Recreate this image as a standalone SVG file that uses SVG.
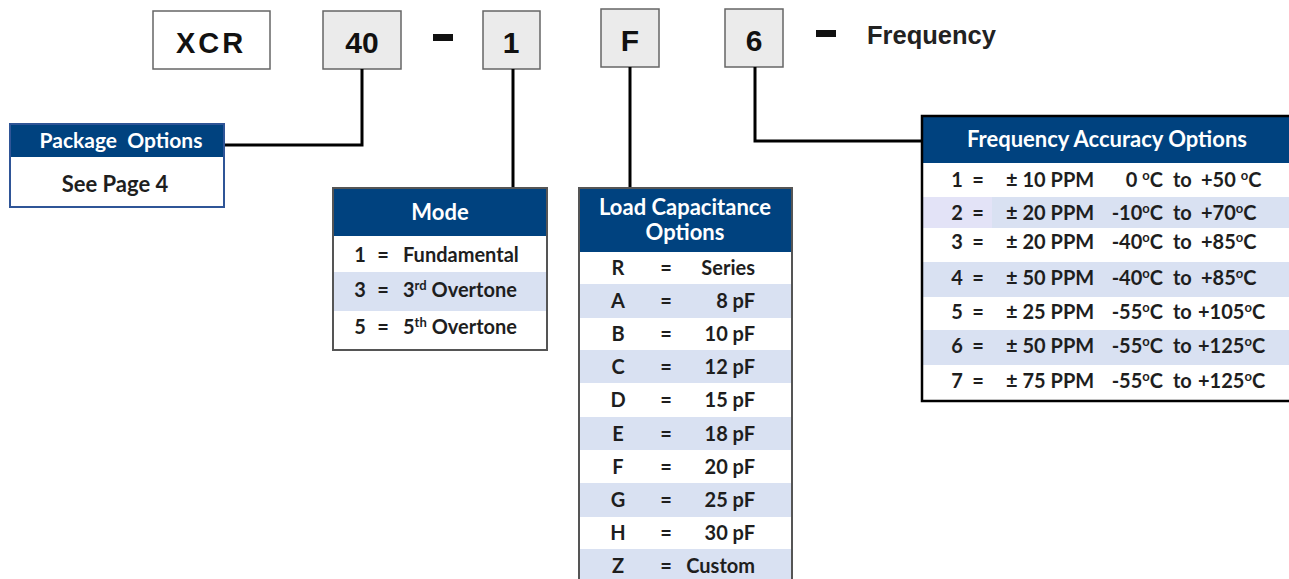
<svg xmlns="http://www.w3.org/2000/svg" width="1289" height="579" viewBox="0 0 1289 579">
<style>
.code{fill:#ebebeb;stroke:#666;stroke-width:1.5}
.ct{font-family:"Liberation Sans",Arial,sans-serif;font-weight:bold;font-size:30px;fill:#111;text-anchor:middle}
.hdr{fill:#00427f}
.ht{font-family:Lato,"Liberation Sans",sans-serif;font-weight:bold;font-size:22px;fill:#fff;text-anchor:middle}
.rt{font-family:Lato,"Liberation Sans",sans-serif;font-weight:bold;font-size:20px;fill:#1e1e1e}
.mid{text-anchor:middle}
.end{text-anchor:end}
.sh{fill:#d9e1f2}
.conn{fill:none;stroke:#000;stroke-width:3}
.sup{font-size:13px}
</style>
<rect width="1289" height="579" fill="#fff"/>

<g id="code-xcr">
<rect x="153" y="11" width="117" height="58" fill="#fff" stroke="#666" stroke-width="1.5"/>
<text x="211" y="53" class="ct" style="font-size:29px" letter-spacing="3">XCR</text>
</g>
<g id="code-40">
<rect x="323" y="11" width="78" height="58" class="code"/>
<text x="362" y="53" class="ct">40</text>
</g>
<g id="dash-1"><rect x="433" y="34" width="20" height="7" fill="#111"/></g>
<g id="code-1">
<rect x="483" y="11" width="57" height="58" class="code"/>
<text x="511" y="53" class="ct">1</text>
</g>
<g id="code-f">
<rect x="601" y="9" width="58" height="58" class="code"/>
<text x="630" y="51" class="ct">F</text>
</g>
<g id="code-6">
<rect x="725" y="9" width="58" height="58" class="code"/>
<text x="754" y="51" class="ct">6</text>
</g>
<g id="dash-2"><rect x="816" y="30" width="20" height="7" fill="#111"/></g>
<g id="frequency-label">
<text x="867" y="44" font-family="'Liberation Sans',Arial,sans-serif" font-weight="bold" font-size="25.5" fill="#222">Frequency</text>
</g>

<g id="connectors">
<polyline class="conn" points="362,69 362,145 225,145"/>
<line class="conn" x1="513" y1="69" x2="513" y2="188"/>
<line class="conn" x1="630" y1="67" x2="630" y2="188"/>
<polyline class="conn" points="755,67 755,141 922,141"/>
</g>

<g id="package-options">
<rect x="10" y="124" width="214" height="83" fill="#fff"/>
<rect x="10" y="124" width="214" height="33" class="hdr"/>
<rect x="10" y="124" width="214" height="83" fill="none" stroke="#2f5597" stroke-width="2"/>
<text x="121" y="148" class="ht" style="font-size:21px" xml:space="preserve">Package  Options</text>
<text x="115" y="192" class="rt mid" style="font-size:22px">See Page 4</text>
</g>

<g id="mode">
<rect x="333" y="188" width="214" height="162" fill="#fff"/>
<rect x="333" y="188" width="214" height="48" class="hdr"/>
<rect x="333" y="272" width="214" height="39" class="sh"/>
<rect x="333" y="188" width="214" height="162" fill="none" stroke="#555" stroke-width="2"/>
<text x="440" y="220" class="ht">Mode</text>
<text x="360" y="262" class="rt mid">1</text><text x="383" y="262" class="rt mid">=</text><text x="403" y="262" class="rt">Fundamental</text>
<text x="360" y="297" class="rt mid">3</text><text x="383" y="297" class="rt mid">=</text><text x="403" y="297" class="rt">3<tspan class="sup" dy="-7">rd</tspan><tspan dy="7"> Overtone</tspan></text>
<text x="360" y="334" class="rt mid">5</text><text x="383" y="334" class="rt mid">=</text><text x="403" y="334" class="rt">5<tspan class="sup" dy="-7">th</tspan><tspan dy="7"> Overtone</tspan></text>
</g>

<g id="load-capacitance">
<rect x="579" y="188" width="213" height="400" fill="#fff"/>
<rect x="579" y="188" width="213" height="64" class="hdr"/>
<rect x="579" y="284" width="213" height="34" class="sh"/>
<rect x="579" y="350" width="213" height="33" class="sh"/>
<rect x="579" y="417" width="213" height="33" class="sh"/>
<rect x="579" y="483" width="213" height="34" class="sh"/>
<rect x="579" y="549" width="213" height="40" class="sh"/>
<rect x="579" y="188" width="213" height="400" fill="none" stroke="#555" stroke-width="2"/>
<text x="685" y="215" class="ht">Load Capacitance</text>
<text x="685" y="240" class="ht">Options</text>
<g class="rt">
<text x="618" y="275" class="mid">R</text><text x="666" y="275" class="mid">=</text><text x="755" y="275" class="end">Series</text>
<text x="618" y="308" class="mid">A</text><text x="666" y="308" class="mid">=</text><text x="755" y="308" class="end">8 pF</text>
<text x="618" y="341" class="mid">B</text><text x="666" y="341" class="mid">=</text><text x="755" y="341" class="end">10 pF</text>
<text x="618" y="374" class="mid">C</text><text x="666" y="374" class="mid">=</text><text x="755" y="374" class="end">12 pF</text>
<text x="618" y="407" class="mid">D</text><text x="666" y="407" class="mid">=</text><text x="755" y="407" class="end">15 pF</text>
<text x="618" y="441" class="mid">E</text><text x="666" y="441" class="mid">=</text><text x="755" y="441" class="end">18 pF</text>
<text x="618" y="474" class="mid">F</text><text x="666" y="474" class="mid">=</text><text x="755" y="474" class="end">20 pF</text>
<text x="618" y="507" class="mid">G</text><text x="666" y="507" class="mid">=</text><text x="755" y="507" class="end">25 pF</text>
<text x="618" y="540" class="mid">H</text><text x="666" y="540" class="mid">=</text><text x="755" y="540" class="end">30 pF</text>
<text x="618" y="573" class="mid">Z</text><text x="666" y="573" class="mid">=</text><text x="755" y="573" class="end">Custom</text>
</g>
</g>

<g id="frequency-accuracy">
<rect x="922" y="116" width="380" height="285" fill="#fff"/>
<rect x="922" y="116" width="380" height="47" class="hdr"/>
<rect x="922" y="197" width="380" height="31" class="sh"/>
<rect x="922" y="197" width="70" height="31" fill="#e3e3f7"/>
<rect x="922" y="262" width="380" height="35" class="sh"/>
<rect x="922" y="330" width="380" height="35" class="sh"/>
<rect x="922" y="116" width="380" height="285" fill="none" stroke="#000" stroke-width="2.5"/>
<text x="1107" y="147" class="ht">Frequency Accuracy Options</text>
<g class="rt">
<text x="957" y="187" class="mid">1</text><text x="978" y="187" class="mid">=</text><text x="1006" y="187">± 10 PPM</text>
<text x="1163" y="187" class="end">0 <tspan class="sup" dy="-7">o</tspan><tspan dy="7">C</tspan></text><text x="1173" y="187">to</text><text x="1201" y="187">+50 <tspan class="sup" dy="-7">o</tspan><tspan dy="7">C</tspan></text>

<text x="957" y="220" class="mid">2</text><text x="978" y="220" class="mid">=</text><text x="1006" y="220">± 20 PPM</text>
<text x="1163" y="220" class="end">-10<tspan class="sup" dy="-7">o</tspan><tspan dy="7">C</tspan></text><text x="1173" y="220">to</text><text x="1201" y="220">+70<tspan class="sup" dy="-7">o</tspan><tspan dy="7">C</tspan></text>

<text x="957" y="249" class="mid">3</text><text x="978" y="249" class="mid">=</text><text x="1006" y="249">± 20 PPM</text>
<text x="1163" y="249" class="end">-40<tspan class="sup" dy="-7">o</tspan><tspan dy="7">C</tspan></text><text x="1173" y="249">to</text><text x="1201" y="249">+85<tspan class="sup" dy="-7">o</tspan><tspan dy="7">C</tspan></text>

<text x="957" y="285" class="mid">4</text><text x="978" y="285" class="mid">=</text><text x="1006" y="285">± 50 PPM</text>
<text x="1163" y="285" class="end">-40<tspan class="sup" dy="-7">o</tspan><tspan dy="7">C</tspan></text><text x="1173" y="285">to</text><text x="1201" y="285">+85<tspan class="sup" dy="-7">o</tspan><tspan dy="7">C</tspan></text>

<text x="957" y="319" class="mid">5</text><text x="978" y="319" class="mid">=</text><text x="1006" y="319">± 25 PPM</text>
<text x="1163" y="319" class="end">-55<tspan class="sup" dy="-7">o</tspan><tspan dy="7">C</tspan></text><text x="1173" y="319">to</text><text x="1198" y="319">+105<tspan class="sup" dy="-7">o</tspan><tspan dy="7">C</tspan></text>

<text x="957" y="353" class="mid">6</text><text x="978" y="353" class="mid">=</text><text x="1006" y="353">± 50 PPM</text>
<text x="1163" y="353" class="end">-55<tspan class="sup" dy="-7">o</tspan><tspan dy="7">C</tspan></text><text x="1173" y="353">to</text><text x="1198" y="353">+125<tspan class="sup" dy="-7">o</tspan><tspan dy="7">C</tspan></text>

<text x="957" y="388" class="mid">7</text><text x="978" y="388" class="mid">=</text><text x="1006" y="388">± 75 PPM</text>
<text x="1163" y="388" class="end">-55<tspan class="sup" dy="-7">o</tspan><tspan dy="7">C</tspan></text><text x="1173" y="388">to</text><text x="1198" y="388">+125<tspan class="sup" dy="-7">o</tspan><tspan dy="7">C</tspan></text>
</g>
</g>
</svg>
